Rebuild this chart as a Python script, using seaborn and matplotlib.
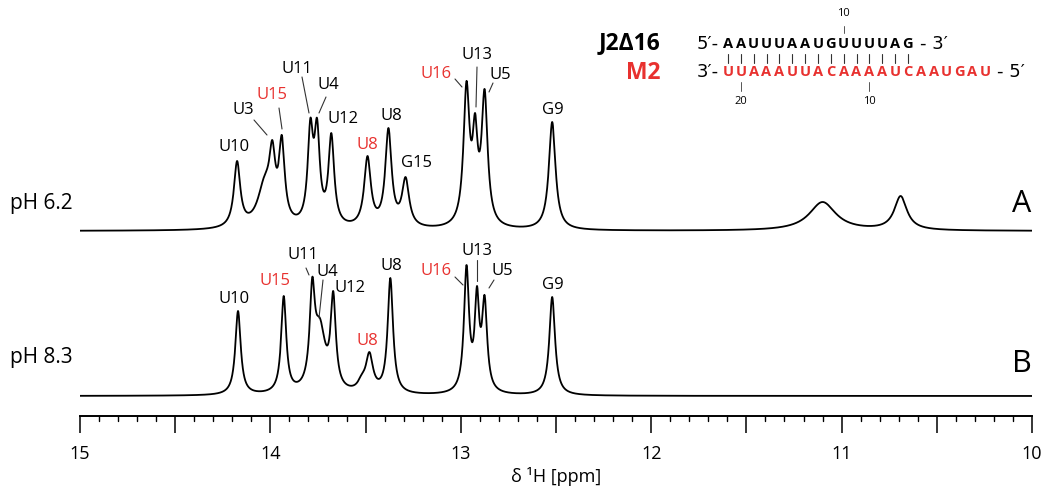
import numpy as np
import pandas as pd
import matplotlib
matplotlib.use("Agg")
import matplotlib.pyplot as plt
import seaborn as sns

sns.set_theme(style="white")
plt.rcParams['font.family'] = ['Open Sans', 'DejaVu Sans']
plt.rcParams['text.color'] = 'black'
plt.rcParams['axes.labelcolor'] = 'black'
plt.rcParams['xtick.color'] = 'black'

# ---------------- data (peak tables) ----------------
# Spectrum A (pH 6.2): peak position [ppm], observed apex height [a.u.], line width [ppm]
a_ppm    = [14.175, 14.03, 13.99, 13.94, 13.79, 13.755, 13.68, 13.49, 13.38, 13.29, 12.97, 12.925, 12.875, 12.52, 11.10, 10.69]
a_height = [70, 56, 91, 96, 113, 113, 98, 75, 103, 54, 150, 118, 142, 109, 29, 35]
a_width  = [0.040, 0.09, 0.038, 0.036, 0.034, 0.034, 0.036, 0.042, 0.040, 0.045, 0.038, 0.032, 0.038, 0.042, 0.17, 0.08]

# Spectrum B (pH 8.3)
b_ppm    = [14.17, 13.93, 13.78, 13.74, 13.67, 13.52, 13.48, 13.37, 12.97, 12.915, 12.875, 12.52]
b_height = [85, 100, 119, 78, 105, 22, 44, 118, 131, 110, 101, 99]
b_width  = [0.034, 0.032, 0.032, 0.07, 0.032, 0.05, 0.045, 0.034, 0.032, 0.028, 0.032, 0.036]

# Peak labels
a_labels = ["U10", "U3", "U15", "U11", "U4", "U12", "U8", "U8", "G15", "U16", "U13", "U5", "G9"]
a_red    = [False, False, True, False, False, False, True, False, False, True, False, False, False]
b_labels = ["U10", "U15", "U11", "U4", "U12", "U8", "U8", "U16", "U13", "U5", "G9"]
b_red    = [False, True, False, False, False, True, False, True, False, False, False]

top_strand = "AAUUUAAUGUUUUAG"
bot_strand = "UUAAAUUACAAAAUCAAUGAU"
x_ticks = [15, 14, 13, 12, 11, 10]

# ---------------- helpers ----------------
W, H = 1049, 493
RED = "#e8312f"
X0, X1 = 80, 1032          # pixel positions of 15 and 10 ppm
AXIS_Y = 416               # pixel row of x-axis line

def P(px):  # pixel x -> ppm
    return 15 - (px - X0) * 5.0 / (X1 - X0)

def Y(py):  # pixel y -> data y
    return AXIS_Y - py

grid = np.linspace(9.9, 15.1, 6000)

def lor(x, c, w):
    g = (w / 2) ** 2
    return g / ((x - c) ** 2 + g)

def spectrum(centers, apex, widths):
    c = np.asarray(centers); w = np.asarray(widths)
    # amplitudes such that the summed line reaches the observed apex heights
    M = np.array([[lor(ci, cj, wj) for cj, wj in zip(c, w)] for ci in c])
    amps = np.clip(np.linalg.solve(M, np.asarray(apex, float)), 0, None)
    s = np.zeros_like(grid)
    for cj, wj, aj in zip(c, w, amps):
        s += aj * lor(grid, cj, wj)
    return s

base_a = Y(231)
base_b = Y(396)
df = pd.concat([
    pd.DataFrame({"ppm": grid, "y": spectrum(a_ppm, a_height, a_width) + base_a, "spec": "A"}),
    pd.DataFrame({"ppm": grid, "y": spectrum(b_ppm, b_height, b_width) + base_b, "spec": "B"}),
])

fig = plt.figure(figsize=(W / 100, H / 100), dpi=100)
ax = fig.add_axes([X0 / W, (H - AXIS_Y) / H, (X1 - X0) / W, AXIS_Y / H])
sns.lineplot(data=df, x="ppm", y="y", hue="spec", palette=["black", "black"],
             legend=False, sort=False, estimator=None, linewidth=1.3, ax=ax)
ax.set_xlim(15, 10)
ax.set_ylim(0, AXIS_Y)
for s in ["top", "right", "left"]:
    ax.spines[s].set_visible(False)
ax.spines["bottom"].set_linewidth(1.4)
ax.spines["bottom"].set_color("black")
ax.set_yticks([])
ax.set_xticks(x_ticks)
ax.set_xticks(np.arange(10, 15.01, 0.5), minor=True)
ax.tick_params(axis="x", which="major", direction="out", length=12, width=1.1,
               labelsize=13, pad=9, bottom=True, color="black", labelcolor="black")
ax.tick_params(axis="x", which="minor", direction="out", length=12, width=1.1, bottom=True, color="black")
for t in np.arange(10.1, 15.0, 0.1):
    if abs(t * 2 - round(t * 2)) > 1e-6:
        ax.plot([t, t], [0, -5], color="black", lw=1.0, clip_on=False)
ax.set_xlabel("δ ¹H [ppm]", fontsize=13, labelpad=3, color="black")
ax.set_ylabel("")
ax.patch.set_alpha(0)

# ---------------- peak labels ----------------
a_pos = [(234, 147), (243, 110), (272, 95), (297, 69), (328, 85), (343, 119), (367, 145),
         (391, 116), (417, 163), (436, 74), (477, 55), (500, 75), (553, 110)]
b_pos = [(234, 299), (275, 281), (303, 255), (327, 272), (350, 288), (367, 341),
         (391, 266), (436, 271), (477, 251), (502, 271), (553, 285)]
for txt, red, (px, py) in zip(a_labels, a_red, a_pos):
    ax.text(P(px), Y(py), txt, color=RED if red else "black", fontsize=12,
            ha="center", va="center")
for txt, red, (px, py) in zip(b_labels, b_red, b_pos):
    ax.text(P(px), Y(py), txt, color=RED if red else "black", fontsize=12,
            ha="center", va="center")

leaders = [((254, 120), (267, 135)), ((279, 108), (282, 129)), ((302, 77), (309, 113)),
           ((326, 97), (319, 113)), ((455, 79), (462, 87)), ((477, 67), (476, 107)),
           ((493, 83), (489, 92)),
           ((306, 268), (309, 275)), ((323, 280), (319, 318)), ((455, 277), (463, 285)),
           ((477, 260), (477, 281)), ((494, 280), (489, 288))]
for (x0, y0), (x1, y1) in leaders:
    ax.plot([P(x0), P(x1)], [Y(y0), Y(y1)], color="#333333", lw=0.8)

# ---------------- side labels ----------------
fig.text(10 / W, 1 - 203 / H, "pH 6.2", fontsize=15, ha="left", va="center")
fig.text(10 / W, 1 - 358 / H, "pH 8.3", fontsize=15, ha="left", va="center")
fig.text(1022 / W, 1 - 204 / H, "A", fontsize=22, ha="center", va="center")
fig.text(1022 / W, 1 - 364 / H, "B", fontsize=22, ha="center", va="center")

# ---------------- sequence inset ----------------
fig.text(660 / W, 1 - 43 / H, "J2Δ16", fontsize=16.5, fontweight="bold", ha="right", va="center")
fig.text(660 / W, 1 - 73 / H, "M2", fontsize=16.5, fontweight="bold", color=RED, ha="right", va="center")
pitch = 12.85
lx = 728
fig.text(697 / W, 1 - 44 / H, "5′-", fontsize=13, ha="left", va="center", family=["DejaVu Sans"])
fig.text(697 / W, 1 - 72 / H, "3′-", fontsize=13, ha="left", va="center", family=["DejaVu Sans"])
for i, ch in enumerate(top_strand):
    fig.text((lx + i * pitch) / W, 1 - 44 / H, ch, fontsize=10.5, fontweight="bold",
             ha="center", va="center")
    fig.add_artist(plt.Line2D([(lx + i * pitch) / W] * 2, [1 - 54 / H, 1 - 63 / H],
                              color="#333333", lw=0.8))
for i, ch in enumerate(bot_strand):
    fig.text((lx + i * pitch) / W, 1 - 72 / H, ch, fontsize=10.5, fontweight="bold",
             color=RED, ha="center", va="center")
end_top = lx + (len(top_strand) - 1) * pitch + 12
end_bot = lx + (len(bot_strand) - 1) * pitch + 12
fig.text(end_top / W, 1 - 44 / H, "- 3′", fontsize=13, ha="left", va="center", family=["DejaVu Sans"])
fig.text(end_bot / W, 1 - 72 / H, "- 5′", fontsize=13, ha="left", va="center", family=["DejaVu Sans"])
n10_top = lx + 9 * pitch
fig.text(n10_top / W, 1 - 13 / H, "10", fontsize=8, ha="center", va="center")
fig.add_artist(plt.Line2D([n10_top / W] * 2, [1 - 26 / H, 1 - 33 / H], color="#555555", lw=0.7))
n20 = lx + 1 * pitch
n10b = lx + 11 * pitch
for xx in (n20, n10b):
    fig.add_artist(plt.Line2D([xx / W] * 2, [1 - 82 / H, 1 - 91 / H], color="#555555", lw=0.7))
fig.text(n20 / W, 1 - 101 / H, "20", fontsize=8, ha="center", va="center")
fig.text(n10b / W, 1 - 101 / H, "10", fontsize=8, ha="center", va="center")

fig.savefig("out.png", dpi=100)
